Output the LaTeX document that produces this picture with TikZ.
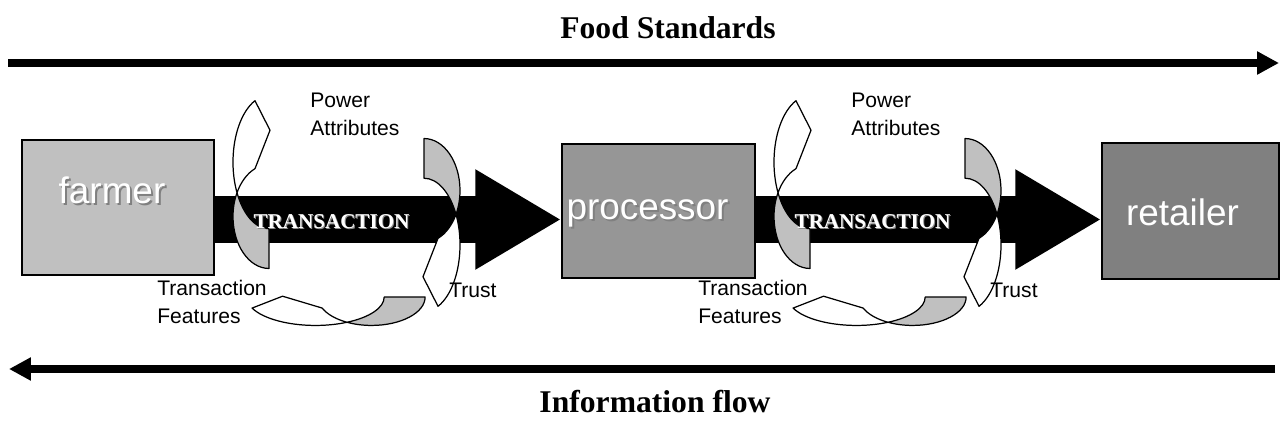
\documentclass[tikz,border=0pt]{standalone}
\usepackage{fontspec}
\setmainfont{Liberation Serif}
\setsansfont{Liberation Sans}
\usetikzlibrary{arrows.meta,
  calc,
  positioning
}
\definecolor{farmgray}{HTML}{C0C0C0}
\definecolor{procgray}{HTML}{969696}
\definecolor{retailgray}{HTML}{808080}
\definecolor{tailgray}{HTML}{C0C0C0}

\tikzset{
  actor/.style={draw=black, line width=0.85pt, inner sep=0pt},
  actortext/.style={font=\sffamily\fontsize{21}{21}\selectfont, text=white, inner sep=0pt, anchor=base},
  actorshadow/.style={actortext, text=black!50},
  deal/.style={line width=0.94cm, -{Triangle[length=1.72cm, width=1.88cm]}},
  dealtext/.style={font=\bfseries\fontsize{12}{12}\selectfont, text=white, inner sep=0pt, anchor=base},
  flow/.style={line width=0.16cm, -{Triangle[length=0.44cm, width=0.44cm]}},
  flowtext/.style={font=\bfseries\fontsize{18}{18}\selectfont, inner sep=0pt, anchor=base},
  factor/.style={font=\sffamily\fontsize{12}{15.4}\selectfont, align=left, inner sep=0pt, anchor=base west},
  twist arrow/.pic={
    \filldraw[fill=tailgray, draw=black, line width=0.7pt, line join=round]
      (0,66) arc[start angle=90, end angle=207.3, x radius=36, y radius=40.6]
      arc[start angle=152.7, end angle=90, x radius=36, y radius=52.1] -- cycle;
    \filldraw[fill=white, draw=black, line width=0.7pt, line join=round]
      (-32,6.8) arc[start angle=152.7, end angle=247.1, x radius=36, y radius=52.1]
      -- (1,-42) -- (-14,-12)
      arc[start angle=247.1, end angle=207.3, x radius=36, y radius=40.6] -- cycle;
  }
}

\begin{document}
\begin{tikzpicture}[x=0.02cm, y=-0.02cm]
  \useasboundingbox (0,0) rectangle (1281,429);

  % food standards, left to right
  \coordinate (stdL) at (8,63);
  \coordinate (stdR) at (1279,63);
  \draw[flow] (stdL) -- (stdR);
  \node[flowtext] (stdlabel) at (668,39) {Food Standards};

  % chain members
  \node[actor, fill=farmgray, minimum width=3.84cm, minimum height=2.70cm] (farmer) at (118,207.5) {};
  \node[actor, fill=procgray, minimum width=3.86cm, minimum height=2.68cm] (processor) at (658.5,211) {};
  \node[actor, fill=retailgray, minimum width=3.54cm, minimum height=2.72cm] (retailer) at (1190.5,211) {};

  \node[actorshadow] at ([shift={(2,2)}]$(farmer.center)+(-6,-4)$) {farmer};
  \node[actortext] (farmerlabel) at ($(farmer.center)+(-6,-4)$) {farmer};
  \node[actorshadow] at ([shift={(2,2)}]$(processor.center)+(-11,8)$) {processor};
  \node[actortext] (processorlabel) at ($(processor.center)+(-11,8)$) {processor};
  \node[actorshadow] at ([shift={(2,2)}]$(retailer.center)+(-8,14)$) {retailer};
  \node[actortext] (retailerlabel) at ($(retailer.center)+(-8,14)$) {retailer};

  % transactions
  \coordinate (axis) at (0,219.5);
  \draw[deal] (farmer.east |- axis) -- (processor.west |- axis);
  \draw[deal] (processor.east |- axis) -- (retailer.west |- axis);

  \foreach \dx [count=\i] in {0,541} {
    \begin{scope}[shift={(\dx,0)}]
      \pic[shift={(269,184)}, yscale=1.28] {twist arrow};
      \pic[shift={(424,223)}, rotate=180, yscale=1.28] {twist arrow};
      \pic[shift={(338,297)}, rotate=90, xscale=0.79, yscale=1.32] {twist arrow};
      \node[dealtext, text=black!45] at (332.5,229) {TRANSACTION};
      \node[dealtext] (deal\i) at (331.5,228) {TRANSACTION};
      \node[factor] (power\i) at (310,135) {Power\\Attributes};
      \node[factor] (features\i) at (157,323) {Transaction\\Features};
      \node[factor] (trust\i) at (449,297) {Trust};
    \end{scope}
  }

  % information, right to left
  \coordinate (infoR) at (1275,369);
  \coordinate (infoL) at (9,369);
  \draw[flow] (infoR) -- (infoL);
  \node[flowtext] (infolabel) at (655,412) {Information flow};
\end{tikzpicture}
\end{document}
